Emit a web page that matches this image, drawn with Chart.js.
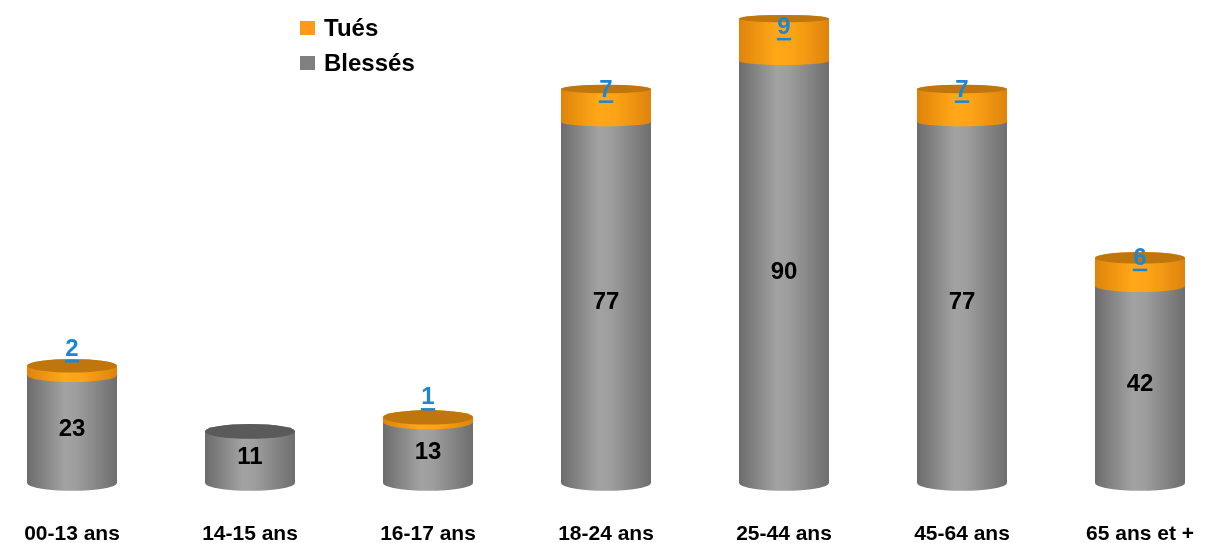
<!DOCTYPE html>
<html>
<head>
<meta charset="utf-8">
<script src="https://cdn.jsdelivr.net/npm/chart.js@4/dist/chart.umd.min.js"></script>
<style>
  html, body { margin: 0; padding: 0; background: #ffffff; }
  #wrap { width: 1209px; height: 543px; position: relative; }
</style>
</head>
<body>
<div id="wrap"><canvas id="c" width="1209" height="543"></canvas></div>
<script>
// Age groups and casualty counts
const categories = ['00-13 ans', '14-15 ans', '16-17 ans', '18-24 ans', '25-44 ans', '45-64 ans', '65 ans et +'];
const blesses = [23, 11, 13, 77, 90, 77, 42];
const tues = [2, 0, 1, 7, 9, 7, 6];
const seriesNames = ['Blessés', 'Tués'];

const FONT = "'Liberation Sans', Arial, sans-serif";

// Cylinder shading per series
const palette = [
  { // Blessés
    stops: [[0, '#6c6c6c'], [0.42, '#a2a2a2'], [0.55, '#9e9e9e'], [1, '#6e6e6e']],
    top: '#5a5a5a',
    legend: '#808080'
  },
  { // Tués
    stops: [[0, '#df840b'], [0.42, '#ffa818'], [0.6, '#fda316'], [1, '#de840c']],
    top: '#bf760d',
    legend: '#ff9a18'
  }
];

// Ellipse depth grows towards the bottom of the chart (viewer looks slightly down)
function ryAt(y) { return 3.5 + 0.009 * y; }

function drawSegment(ctx, cx, w, yTop, yBase, style, topMost) {
  const rx = w / 2, x0 = cx - rx, x1 = cx + rx;
  const rb = ryAt(yBase), rt = ryAt(yTop);
  const g = ctx.createLinearGradient(x0, 0, x1, 0);
  style.stops.forEach(([o, c]) => g.addColorStop(o, c));
  ctx.beginPath();
  ctx.moveTo(x0, yTop);
  ctx.lineTo(x0, yBase);
  ctx.ellipse(cx, yBase, rx, rb, 0, Math.PI, 0, true);
  ctx.lineTo(x1, yTop);
  ctx.ellipse(cx, yTop, rx, rt, 0, 0, Math.PI, true);
  ctx.closePath();
  ctx.fillStyle = g;
  ctx.fill();
  if (topMost) {
    ctx.beginPath();
    ctx.ellipse(cx, yTop, rx, rt, 0, 0, Math.PI * 2);
    ctx.fillStyle = style.top;
    ctx.fill();
  }
}

const cylinderPlugin = {
  id: 'cylinders',
  beforeDatasetDraw() { return false; },
  afterDatasetsDraw(chart) {
    const ctx = chart.ctx;
    const metas = [chart.getDatasetMeta(0), chart.getDatasetMeta(1)];
    const values = [blesses, tues];
    ctx.save();
    for (let i = 0; i < categories.length; i++) {
      for (let d = 0; d < 2; d++) {
        if (!values[d][i]) continue;
        const bar = metas[d].data[i];
        const topMost = d === 1 || !values[1][i];
        drawSegment(ctx, bar.x, bar.width, bar.y, bar.base, palette[d], topMost);
      }
    }
    // value labels
    ctx.textAlign = 'center';
    ctx.textBaseline = 'middle';
    for (let i = 0; i < categories.length; i++) {
      const b = metas[0].data[i];
      ctx.font = 'bold 24px ' + FONT;
      ctx.fillStyle = '#000000';
      ctx.fillText(String(blesses[i]), b.x, (b.y + b.base) / 2);
      if (tues[i]) {
        const t = metas[1].data[i];
        const ly = t.base - (35 - 0.025 * t.base);
        const txt = String(tues[i]);
        ctx.fillStyle = '#1b87d2';
        ctx.fillText(txt, t.x, ly);
        const tw = ctx.measureText(txt).width;
        ctx.fillRect(t.x - tw / 2 - 0.5, ly + 10.5, tw + 1, 2.5);
      }
    }
    // category labels under each cylinder, placed by the x scale
    const xs = chart.scales.x;
    ctx.font = 'bold 21px ' + FONT;
    ctx.fillStyle = '#000000';
    ctx.textBaseline = 'alphabetic';
    categories.forEach((c, i) => {
      ctx.fillText(c, xs.getPixelForValue(i), 540);
    });
    ctx.restore();
  },
  afterDraw(chart) {
    const ctx = chart.ctx;
    ctx.save();
    ctx.font = 'bold 24px ' + FONT;
    ctx.textAlign = 'left';
    ctx.textBaseline = 'middle';
    const rows = [[1, 28], [0, 63]];
    rows.forEach(([d, y]) => {
      ctx.fillStyle = palette[d].legend;
      ctx.fillRect(300, y - 7, 15, 14);
      ctx.fillStyle = '#000000';
      ctx.fillText(chart.data.datasets[d].label, 324, y + 1);
    });
    ctx.restore();
  }
};

new Chart(document.getElementById('c'), {
  type: 'bar',
  data: {
    labels: categories,
    datasets: [
      { label: seriesNames[0], data: blesses, backgroundColor: palette[0].legend, barThickness: 90 },
      { label: seriesNames[1], data: tues, backgroundColor: palette[1].legend, barThickness: 90 }
    ]
  },
  options: {
    responsive: false,
    animation: false,
    devicePixelRatio: 1,
    layout: { padding: { top: 14, left: 72, right: 69, bottom: 60 } },
    scales: {
      x: { stacked: true, offset: false, display: false },
      y: { stacked: true, display: false, min: 0, max: 100 }
    },
    plugins: {
      legend: { display: false },
      tooltip: { enabled: false }
    }
  },
  plugins: [cylinderPlugin]
});
</script>
</body>
</html>
